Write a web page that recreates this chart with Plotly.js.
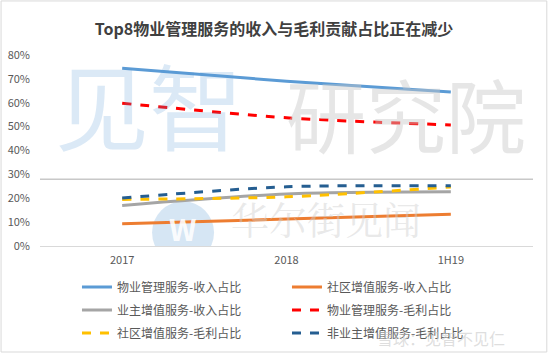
<!DOCTYPE html>
<html><head><meta charset="utf-8">
<script src="https://cdn.plot.ly/plotly-3.0.1.min.js"></script>
<style>html,body{margin:0;padding:0;background:#fff;}#c{width:548px;height:353px;}</style>
</head><body><div id="c"></div>
<script>
const categories = ["2017", "2018", "1H19"];
const seriesNames = ["物业管理服务-收入占比", "社区增值服务-收入占比", "业主增值服务-收入占比", "物业管理服务-毛利占比", "社区增值服务-毛利占比", "非业主增值服务-毛利占比"];
const wyglIncome = [0.745, 0.690, 0.645];
const sqIncome = [0.093, 0.113, 0.133];
const yzIncome = [0.170, 0.218, 0.227];
const wyglProfit = [0.598, 0.537, 0.507];
const sqProfit = [0.195, 0.206, 0.247];
const fyzProfit = [0.201, 0.248, 0.252];
const colors = ["#5B9BD5", "#ED7D31", "#A5A5A5", "#FF0000", "#FFC000", "#255E91"];
const dashes = ["solid", "solid", "solid", "dash", "dash", "dash"];
const values = [wyglIncome, sqIncome, yzIncome, wyglProfit, sqProfit, fyzProfit];
const legendIds = ["legend", "legend", "legend2", "legend2", "legend3", "legend3"];

const traces = values.map((v, i) => ({
  x: categories, y: v, name: seriesNames[i], type: "scatter", mode: "lines",
  legend: legendIds[i],
  line: {color: colors[i], width: 3, dash: dashes[i], shape: "spline", smoothing: 0.8}
}));

const font = "'Noto Sans CJK SC', 'Noto Sans', sans-serif";
const legendBase = (y) => ({orientation: "h", x: 0.075, xanchor: "left", y: y, yanchor: "middle", entrywidth: 165, entrywidthmode: "pixels", font: {size: 12, color: "#595959"}, traceorder: "normal", itemwidth: 30, bgcolor: "rgba(0,0,0,0)"});
const layout = {
  width: 548, height: 353,
  margin: {l: 40, r: 15, t: 55, b: 107, autoexpand: false},
  paper_bgcolor: "#fff", plot_bgcolor: "rgba(0,0,0,0)",
  font: {family: font, color: "#595959", size: 11},
  title: {text: "Top8物业管理服务的收入与毛利贡献占比正在减少", font: {family: font, size: 16, color: "#404040", weight: "bold"}, x: 0.5, xanchor: "center", y: 0.917, yanchor: "middle"},
  xaxis: {type: "category", range: [-0.5, 2.5], showgrid: false, zeroline: false, showline: false, ticks: "", ticklabelstandoff: 6, tickfont: {size: 11, color: "#595959"}},
  yaxis: {range: [0, 0.8], dtick: 0.1, tickformat: ".0%", showgrid: false, zeroline: true, zerolinecolor: "#D9D9D9", zerolinewidth: 1, ticks: "", ticklabelstandoff: 9, tickfont: {size: 11, color: "#595959"}},
  showlegend: true,
  legend: legendBase(-0.2147),
  legend2: legendBase(-0.335),
  legend3: legendBase(-0.455),
  shapes: [
    {type: "circle", xref: "x", yref: "y", x0: 0.182, x1: 0.559, y0: -0.074, y1: 0.187, fillcolor: "rgba(91,155,213,0.25)", line: {width: 0}, layer: "below"},
    {type: "line", xref: "paper", yref: "y", x0: 0, x1: 1, y0: 0.28, y1: 0.28, line: {color: "#C8C8C8", width: 1.5}, layer: "below"},
    {type: "rect", xref: "paper", yref: "paper", x0: -0.079, x1: 1.028, y0: -0.555, y1: 1.283, line: {color: "#D9D9D9", width: 1}, layer: "below"}
  ],
  annotations: [
    {text: "见智", xref: "x", yref: "y", x: 0.164, y: 0.60, showarrow: false, font: {family: font, size: 94, color: "rgba(91,155,213,0.22)"}},
    {text: "研究院", xref: "x", yref: "y", x: 1.73, y: 0.56, showarrow: false, font: {family: font, size: 80, color: "rgba(200,200,200,0.45)"}},
    {text: "W", xref: "x", yref: "y", x: 0.37, y: 0.075, showarrow: false, font: {family: font, size: 30, color: "rgba(255,255,255,0.9)", weight: "bold"}},
    {text: "华尔街见闻", xref: "x", yref: "y", x: 1.24, y: 0.12, showarrow: false, font: {family: "'Noto Serif CJK SC', " + font, size: 38, color: "rgba(205,205,205,0.45)"}},
    {text: "雪球：见智不见仁", xref: "paper", yref: "paper", x: 0.947, y: -0.482, xanchor: "right", yanchor: "middle", showarrow: false, font: {family: font, size: 16, color: "rgba(200,200,200,0.6)"}}
  ]
};
Plotly.newPlot("c", traces, layout, {displayModeBar: false, staticPlot: true});
</script></body></html>
